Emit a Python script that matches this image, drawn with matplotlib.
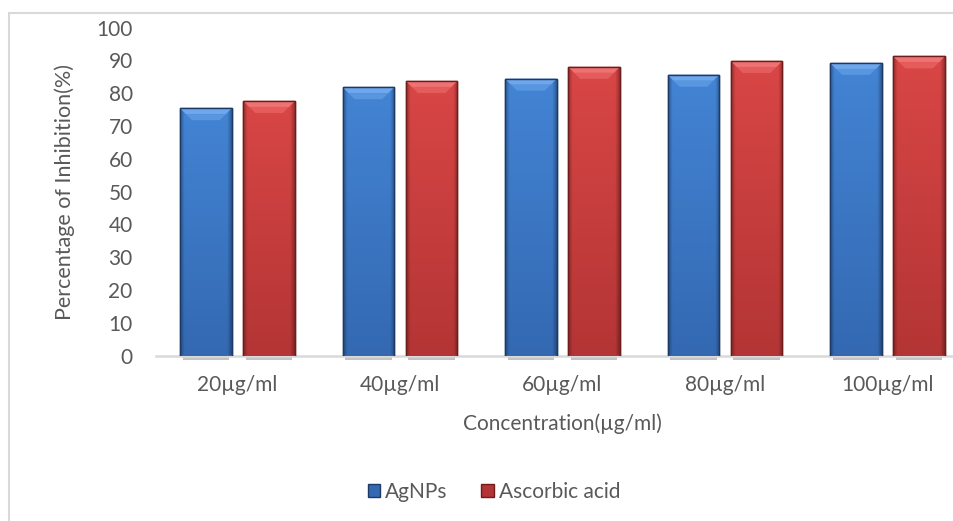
import numpy as np
import matplotlib
matplotlib.use("Agg")
import matplotlib.pyplot as plt
from matplotlib.patches import Polygon, Rectangle, Patch
from matplotlib.colors import to_rgb

# Dados (% de inibição)
categorias = ["20µg/ml", "40µg/ml", "60µg/ml", "80µg/ml", "100µg/ml"]
agnps = [75.4, 81.8, 84.4, 85.6, 89.2]
acido_ascorbico = [77.6, 83.7, 88.0, 89.8, 91.2]
nomes_series = ["AgNPs", "Ascorbic acid"]
y_ticks = [0, 10, 20, 30, 40, 50, 60, 70, 80, 90, 100]

COR_TEXTO = "#595959"
# (topo, base, bisel, borda)
ESTILO_AZUL = ("#4384d4", "#3469b2", "#6ea7ec", "#1d3a66")
ESTILO_VERM = ("#d94646", "#b43535", "#ef7272", "#6e1c1c")

plt.rcParams["font.family"] = ["Lato", "DejaVu Sans"]

W, H = 954, 521
fig = plt.figure(figsize=(W / 100, H / 100), dpi=100)
fig.patch.set_facecolor("white")

# área do gráfico (a imagem original está cortada à direita)
ax = fig.add_axes([156.25 / W, 165.5 / H, 812.5 / W, 328 / H])
ax.set_xlim(-0.5, len(categorias) - 0.5)
ax.set_ylim(0, 100)

# borda do gráfico
fig.add_artist(Rectangle((9.5 / W, -0.1), 1.2, 1.1 - 12.5 / H,
                         transform=fig.transFigure, fill=False,
                         edgecolor="#d9d9d9", lw=1.5))

x = np.arange(len(categorias))
largura = 0.318
desloc = 0.1945


def gradiente(estilo):
    topo, base, _, _ = [np.array(to_rgb(c)) for c in estilo]
    ny, nx = 100, 40
    t = np.linspace(1, 0, ny)[:, None, None]
    img = base + (topo - base) * t
    u = np.linspace(0, 1, nx)
    borda = np.minimum(u, 1 - u)
    fx = 1 - 0.28 * np.clip(1 - borda / 0.08, 0, 1)
    img = img * fx[None, :, None]
    return np.clip(img, 0, 1)


def desenhar_barras(pos, valores, estilo):
    barras = ax.bar(pos, valores, largura, color=estilo[0],
                    edgecolor=estilo[3], lw=1.0, zorder=3)
    img = gradiente(estilo)
    ax.figure.canvas.draw()
    inv = ax.transData.inverted()
    topo_rgb = np.array(to_rgb(estilo[0]))
    bisel_rgb = np.array(to_rgb(estilo[2]))
    for b in barras:
        x0, y0 = b.get_x(), b.get_y()
        w, h = b.get_width(), b.get_height()
        im = ax.imshow(img, extent=(x0, x0 + w, y0, y0 + h),
                       aspect="auto", zorder=3.5, interpolation="bilinear")
        im.set_clip_path(b)
        # bisel superior (trapézio claro, em duas faixas)
        (px0, py1), (px1, _) = ax.transData.transform([(x0, y0 + h), (x0 + w, y0 + h)])
        for k, (a, c) in enumerate([(0, 6), (6, 12)]):
            cor = bisel_rgb if k == 0 else (bisel_rgb + topo_rgb) / 2
            pts = inv.transform([(px0 + a, py1 - a), (px1 - a, py1 - a),
                                 (px1 - c, py1 - c), (px0 + c, py1 - c)])
            ax.add_patch(Polygon(pts, closed=True, facecolor=cor,
                                 edgecolor="none", zorder=4))
        ax.add_patch(Rectangle((x0, y0), w, h, fill=False,
                               edgecolor=estilo[3], lw=1.0, zorder=4.5))
        # sombra sob a barra
        ax.add_patch(Rectangle((x0 + w * 0.05, -1.4), w * 0.9, 1.4,
                               facecolor="#c4c4c4", edgecolor="none",
                               zorder=1, clip_on=False))


desenhar_barras(x - desloc, agnps, ESTILO_AZUL)
desenhar_barras(x + desloc, acido_ascorbico, ESTILO_VERM)
ax.set_xlim(-0.5, len(categorias) - 0.5)
ax.set_ylim(0, 100)

for lado in ["top", "right", "left"]:
    ax.spines[lado].set_visible(False)
ax.spines["bottom"].set_color("#d9d9d9")
ax.spines["bottom"].set_linewidth(1.8)
ax.spines["bottom"].set_zorder(2)

ax.set_xticks(x)
ax.set_xticklabels(categorias)
ax.set_yticks(y_ticks)
ax.tick_params(axis="x", length=0, pad=14, labelsize=15, labelcolor=COR_TEXTO)
ax.tick_params(axis="y", length=0, pad=17, labelsize=15, labelcolor=COR_TEXTO)

ax.set_ylabel("Percentage of Inhibition(%)", fontsize=15.5, color=COR_TEXTO)
ax.yaxis.set_label_coords((75 - 156.25) / 812.5, 0.5)
fig.text(562.5 / W, 1 - 424 / H, "Concentration(µg/ml)", fontsize=15,
         color=COR_TEXTO, ha="center", va="center")

handles = [Patch(facecolor=ESTILO_AZUL[1], edgecolor=ESTILO_AZUL[3]),
           Patch(facecolor=ESTILO_VERM[1], edgecolor=ESTILO_VERM[3])]
leg = fig.legend(handles, nomes_series, loc="center",
                 bbox_to_anchor=(494 / W, 1 - 492 / H), ncol=2, frameon=False,
                 fontsize=15, handlelength=0.6, handleheight=0.6,
                 handletextpad=0.25, columnspacing=1.6)
for t in leg.get_texts():
    t.set_color(COR_TEXTO)

fig.savefig("out.png", dpi=100)
